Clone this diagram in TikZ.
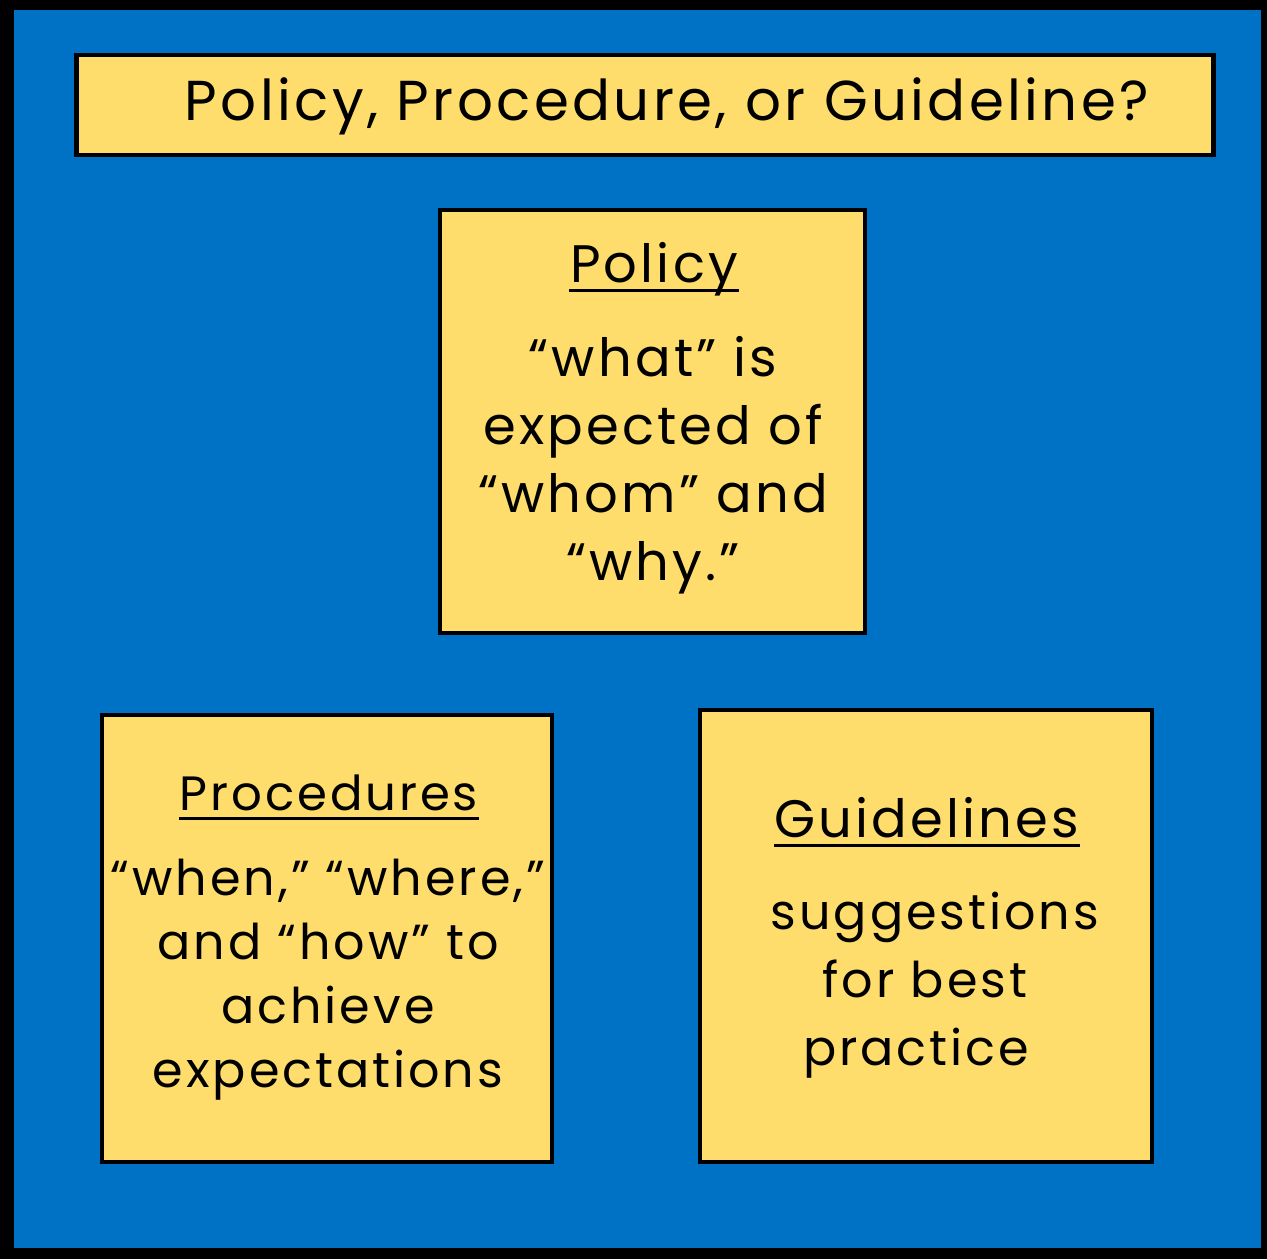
\documentclass[tikz,border=0pt]{standalone}
\usepackage{fontspec}
\setmainfont[LetterSpace=6]{Poppins}
\usetikzlibrary{positioning}
\definecolor{boardblue}{HTML}{0072C5}
\definecolor{noteyellow}{HTML}{FEDD6C}

\begin{document}
\begin{tikzpicture}[x=0.01cm, y=-0.01cm,
    note/.style={draw=black, fill=noteyellow, line width=1.3pt, inner sep=0pt},
    heading/.style={anchor=base, inner sep=0pt, font=\fontsize{15}{18}\selectfont},
    bodytext/.style={anchor=base, inner sep=0pt, align=center,
      font=\fontsize{14}{19.3}\selectfont},
    uline/.style={line width=0.9pt}]
  \useasboundingbox (0,0) rectangle (1267,1259);
  % board
  \fill[black] (0,0) rectangle (1267,1259);
  \fill[boardblue] (14,10) rectangle (1261,1248);
  % title strip
  \node[note, minimum width=11.36cm, minimum height=1cm] (titlebox) at (645,105) {};
  \node[heading, font=\fontsize{16}{20}\selectfont] (title) at (667,120)
    {Policy, Procedure, or Guideline?};
  % Policy (base = last line)
  \node[note, minimum width=4.25cm, minimum height=4.23cm] (policybox) at (652.5,421.5) {};
  \node[heading] (policyhead) at (654,282) {Policy};
  \draw[uline] ([yshift=-2.5pt]policyhead.base west) -- ([yshift=-2.5pt]policyhead.base east);
  \node[bodytext, font=\fontsize{15}{19.3}\selectfont] (policytext) at (653,580)
    {“what” is\\expected of\\“whom” and\\“why.”};
  % Procedures
  \node[note, minimum width=4.5cm, minimum height=4.47cm] (procbox) at (327,938.5) {};
  \node[heading, font=\fontsize{13.7}{18}\selectfont] (prochead) at (329,810) {Procedures};
  \draw[uline] ([yshift=-2.5pt]prochead.base west) -- ([yshift=-2.5pt]prochead.base east);
  \node[bodytext, font=\fontsize{14}{18.2}\selectfont] (proctext) at (328,1087)
    {“when,” “where,”\\and “how” to\\achieve\\expectations};
  % Guidelines
  \node[note, minimum width=4.52cm, minimum height=4.52cm] (guidebox) at (926,936) {};
  \node[heading] (guidehead) at (927,837) {Guidelines};
  \draw[uline] ([yshift=-2.5pt]guidehead.base west) -- ([yshift=-2.5pt]guidehead.base east);
  \node[bodytext] (guidetext) at (935,1065)
    {suggestions\\\hspace*{-5.7pt}for best\\\hspace*{-10.8pt}practice};
\end{tikzpicture}
\end{document}
